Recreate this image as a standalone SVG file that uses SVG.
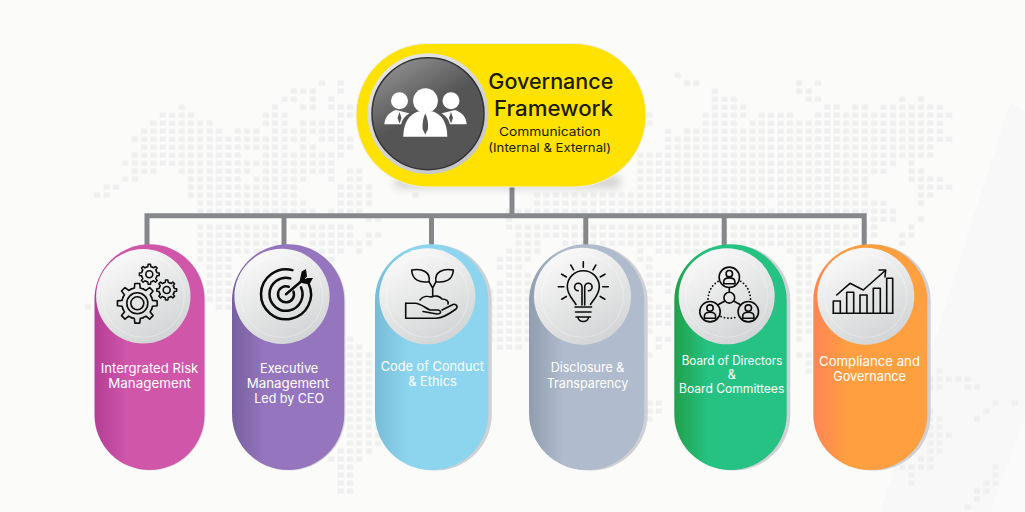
<svg xmlns="http://www.w3.org/2000/svg" xmlns:xlink="http://www.w3.org/1999/xlink" width="1025" height="512" viewBox="0 0 1025 512">
<style>
text{font-family:"Inter","Noto Sans","Liberation Sans",sans-serif}
.lab{fill:#fff;font-size:13.5px}
.lab2{fill:#fff;font-size:12.4px}
.ttl{fill:#1c1a08;font-size:20.8px;font-weight:500}
.sub{fill:#22200e;font-size:12.2px}
.ico{fill:none;stroke:#0b0b0b;stroke-width:1.6;stroke-linecap:round;stroke-linejoin:round}
.dotted{fill:none;stroke:#0b0b0b;stroke-width:1.8;stroke-linecap:round;stroke-dasharray:.1 3.4}
.disc{fill:url(#disc)}
.rim{fill:none;stroke:#fff;stroke-opacity:.3;stroke-width:1}
.shd{fill:#cfd0d3}
.pw{fill:#fff}
.tie{fill:#555}
</style>
<defs>
<pattern id="dot" patternUnits="userSpaceOnUse" width="1" height="1"><rect x=".17" y=".18" width=".66" height=".64" fill="#efeff0"/></pattern>
<linearGradient id="disc" x1=".2" y1="0" x2=".7" y2="1"><stop offset="0" stop-color="#fbfbfb"/><stop offset="1" stop-color="#d2d3d4"/></linearGradient>
<linearGradient id="ring" x1=".2" y1="0" x2=".8" y2="1"><stop offset="0" stop-color="#e6e6e6"/><stop offset="1" stop-color="#c4c4c4"/></linearGradient>
<linearGradient id="dark" x1=".25" y1="0" x2=".6" y2=".6"><stop offset="0" stop-color="#8f8f8f"/><stop offset=".75" stop-color="#555"/></linearGradient>
<linearGradient id="gPink"><stop offset="0" stop-color="#b43f96"/><stop offset=".3" stop-color="#cf56a9"/></linearGradient>
<linearGradient id="gPurple"><stop offset="0" stop-color="#77609f"/><stop offset=".3" stop-color="#9675bf"/></linearGradient>
<linearGradient id="gCyan"><stop offset="0" stop-color="#77bcd6"/><stop offset=".3" stop-color="#8dd5ef"/></linearGradient>
<linearGradient id="gBlue"><stop offset="0" stop-color="#909dae"/><stop offset=".3" stop-color="#b0bccd"/></linearGradient>
<linearGradient id="gGreen"><stop offset="0" stop-color="#22a04a"/><stop offset=".3" stop-color="#25c283"/></linearGradient>
<linearGradient id="gOrange"><stop offset="0" stop-color="#ff8556"/><stop offset=".3" stop-color="#ff9f3f"/></linearGradient>
<filter id="blur" x="-20%" y="-100%" width="140%" height="300%"><feGaussianBlur stdDeviation="5"/></filter>
<path id="t" d="M-5.93-14.32L-2.96-15.2L-2.44-19.85H2.44L2.96-15.2L5.93-14.32"/>
<g id="gear"><use xlink:href="#t"/><use xlink:href="#t" transform="rotate(45)"/><use xlink:href="#t" transform="rotate(90)"/><use xlink:href="#t" transform="rotate(135)"/><use xlink:href="#t" transform="rotate(180)"/><use xlink:href="#t" transform="rotate(225)"/><use xlink:href="#t" transform="rotate(270)"/><use xlink:href="#t" transform="rotate(315)"/></g>
<g id="person"><circle r="10.2"/><circle cy="-3.6" r="3.2"/><path d="M-5.6 6.5V4.5C-5.6 1.5-3 .6 0 .6S5.6 1.5 5.6 4.5V6.5"/><path d="M-5.6 6.5H5.6"/></g>
</defs>

<rect width="1025" height="512" fill="#fbfbfa"/>
<path d="M880 512L1010 102L1025 112V512Z" fill="#f8f8f8"/>
<path d="M990 512L1025 417V512Z" fill="#fafafa"/>

<g id="map" transform="translate(92.62 79.3) scale(9.36 8)">
<path fill="url(#dot)" d="M62-1h1v1h-1z
M24 0h1v1h-1zM26 0h1v1h-1zM63 0h2v1h-2zM75 0h1v1h-1zM77 0h1v1h-1z
M21 1h3v1h-3zM26 1h1v1h-1zM66 1h1v1h-1zM75 1h2v1h-2z
M20 2h2v1h-2zM23 2h1v1h-1zM25 2h1v1h-1zM66 2h3v1h-3zM76 2h2v1h-2zM86 2h1v1h-1zM88 2h1v1h-1z
M9 3h1v1h-1zM19 3h1v1h-1zM22 3h2v1h-2zM25 3h3v1h-3zM66 3h4v1h-4zM78 3h2v1h-2zM81 3h2v1h-2zM84 3h7v1h-7z
M7 4h4v1h-4zM18 4h3v1h-3zM26 4h2v1h-2zM59 4h1v1h-1zM65 4h5v1h-5zM71 4h4v1h-4zM77 4h15v1h-15z
M6 5h7v1h-7zM18 5h3v1h-3zM22 5h5v1h-5zM59 5h1v1h-1zM65 5h4v1h-4zM70 5h21v1h-21z
M5 6h9v1h-9zM15 6h3v1h-3zM19 6h8v1h-8zM61 6h1v1h-1zM63 6h28v1h-28z
M4 7h19v1h-19zM24 7h4v1h-4zM61 7h31v1h-31z
M5 8h16v1h-16zM22 8h2v1h-2zM26 8h2v1h-2zM61 8h29v1h-29z
M4 9h12v1h-12zM18 9h9v1h-9zM58 9h32v1h-32z
M3 10h23v1h-23zM58 10h28v1h-28zM87 10h1v1h-1z
M4 11h3v1h-3zM9 11h8v1h-8zM18 11h8v1h-8zM27 11h2v1h-2zM58 11h27v1h-27zM87 11h2v1h-2z
M3 12h2v1h-2zM10 12h6v1h-6zM17 12h6v1h-6zM25 12h1v1h-1zM27 12h2v1h-2zM58 12h25v1h-25zM87 12h4v1h-4z
M1 13h2v1h-2zM10 13h12v1h-12zM26 13h4v1h-4zM58 13h25v1h-25zM88 13h4v1h-4z
M0 14h2v1h-2zM10 14h12v1h-12zM26 14h4v1h-4zM34 14h1v1h-1zM47 14h36v1h-36zM88 14h2v1h-2z
M11 15h12v1h-12zM26 15h4v1h-4zM47 15h25v1h-25zM73 15h12v1h-12zM88 15h1v1h-1z
M11 16h13v1h-13zM25 16h4v1h-4zM44 16h42v1h-42z
M29 17h2v1h-2zM44 17h1v1h-1zM83 17h3v1h-3zM88 17h1v1h-1z
M11 18h9v1h-9zM21 18h7v1h-7zM44 18h40v1h-40zM87 18h1v1h-1z
M11 19h9v1h-9zM22 19h6v1h-6zM29 19h2v1h-2zM45 19h39v1h-39zM86 19h2v1h-2z
M11 20h9v1h-9zM23 20h7v1h-7zM45 20h3v1h-3zM50 20h31v1h-31zM86 20h1v1h-1z
M11 21h9v1h-9zM23 21h4v1h-4zM28 21h1v1h-1zM44 21h4v1h-4zM58 21h1v1h-1zM60 21h8v1h-8zM74 21h6v1h-6z
M11 22h4v1h-4zM25 22h1v1h-1zM43 22h4v1h-4zM58 22h2v1h-2zM75 22h2v1h-2z
M12 23h3v1h-3zM43 23h3v1h-3zM59 23h1v1h-1zM75 23h2v1h-2z
M12 24h3v1h-3zM44 24h3v1h-3zM59 24h3v1h-3zM75 24h2v1h-2z
M12 25h3v1h-3zM43 25h4v1h-4zM59 25h3v1h-3zM75 25h2v1h-2z
M12 26h3v1h-3zM42 26h5v1h-5zM59 26h1v1h-1zM61 26h1v1h-1zM75 26h2v1h-2z
M12 27h3v1h-3zM42 27h5v1h-5zM59 27h1v1h-1zM75 27h2v1h-2z
M-1 28h1v1h-1zM13 28h2v1h-2zM42 28h5v1h-5zM59 28h3v1h-3zM75 28h2v1h-2z
M42 29h5v1h-5zM59 29h3v1h-3zM75 29h2v1h-2z
M42 30h5v1h-5zM59 30h3v1h-3zM75 30h2v1h-2z
M42 31h5v1h-5zM59 31h1v1h-1zM75 31h2v1h-2z
M27 32h1v1h-1zM42 32h5v1h-5zM60 32h2v1h-2zM75 32h1v1h-1z
M27 33h2v1h-2zM43 33h3v1h-3zM60 33h1v1h-1z
M27 34h3v1h-3zM59 34h1v1h-1zM75 34h2v1h-2z
M27 35h4v1h-4zM76 35h1v1h-1z
M27 36h4v1h-4zM76 36h1v1h-1zM90 36h1v1h-1z
M27 37h4v1h-4zM89 37h5v1h-5z
M27 38h4v1h-4zM89 38h2v1h-2zM93 38h2v1h-2z
M27 39h4v1h-4z
M27 40h4v1h-4zM59 40h2v1h-2zM96 40h1v1h-1zM98 40h1v1h-1z
M27 41h4v1h-4zM59 41h2v1h-2zM89 41h1v1h-1zM95 41h1v1h-1z
M27 42h4v1h-4zM59 42h1v1h-1zM89 42h2v1h-2zM94 42h1v1h-1z
M27 43h4v1h-4zM89 43h2v1h-2z
M27 44h4v1h-4zM89 44h3v1h-3z
M27 45h4v1h-4zM89 45h2v1h-2z
M26 46h4v1h-4zM89 46h2v1h-2z
M25 47h4v1h-4zM88 47h2v1h-2z
M26 48h2v1h-2zM86 48h4v1h-4zM96 48h1v1h-1z
M26 49h2v1h-2zM87 49h1v1h-1zM96 49h1v1h-1z
M26 50h2v1h-2zM87 50h1v1h-1zM95 50h2v1h-2z
M26 51h2v1h-2zM94 51h2v1h-2z
M94 52h1v1h-1z
M93 53h1v1h-1z"/>
</g>

<g id="connectors" fill="none" stroke="#85878a" stroke-width="5">
<path d="M147 250V215.8H864.2V250"/>
<path d="M284 215.8V250M431.5 215.8V250M585.8 215.8V250M724.2 215.8V250M512 180V215.8"/>
</g>

<g id="node-root">
<rect x="395" y="176" width="225" height="12" fill="#000" opacity=".17" filter="url(#blur)"/>
<rect x="356" y="43.5" width="290" height="143.5" rx="71.7" fill="#ffe200" stroke="#eeeeea" stroke-width="1"/>
<circle cx="428" cy="113.7" r="60.5" fill="url(#ring)"/>
<circle cx="428" cy="113.7" r="56" fill="url(#dark)" stroke="#333" stroke-width="1.5"/>
<g id="people">
<circle class="pw" cx="399.5" cy="100.7" r="8.5"/>
<circle class="pw" cx="451" cy="100.7" r="8.5"/>
<path class="pw" d="M384.3 124.3C385 116 390 112 396 110L412 114L404 124.3Z"/>
<path class="pw" d="M466.7 124.3C466 116 461 112 455 110L439 114L447 124.3Z"/>
<path class="tie" d="M399.5 112L401.5 118L399.5 123.5L397.5 118Z"/>
<path class="tie" d="M451 112L453 118L451 123.5L449 118Z"/>
<path d="M401 138V125C402 117 410 112 417 109.5H434C441 112 449 117 450 125V138Z" fill="#555"/>
<circle class="pw" cx="425.5" cy="100.7" r="12.4"/>
<path class="pw" d="M403.3 136.7C403.3 122 410 114 418 111.5H433C441 114 447.3 122 447.3 136.7Z"/>
<path class="tie" d="M425.3 113.5C427.5 118 428.5 124 428 129L425.3 134.5L422.6 129C422.2 124 423 118 425.3 113.5Z"/>
</g>
<text class="ttl" x="488.3" y="89.3" textLength="125" lengthAdjust="spacingAndGlyphs">Governance</text>
<text class="ttl" x="494" y="116" textLength="119" lengthAdjust="spacingAndGlyphs">Framework</text>
<text class="sub" x="499" y="136" textLength="101.7" lengthAdjust="spacingAndGlyphs">Communication</text>
<text class="sub" x="488.3" y="151.7" textLength="122.7" lengthAdjust="spacingAndGlyphs">(Internal &amp; External)</text>
</g>

<g id="node-risk">
<rect x="95.5" y="245" width="110" height="225.5" rx="55" fill="#dcdcdf"/>
<rect x="94.5" y="244.3" width="110" height="225.7" rx="55" fill="url(#gPink)"/>
<circle class="disc" cx="143.3" cy="296.3" r="47.2"/><circle class="rim" cx="143.3" cy="296.3" r="41"/>
<g class="ico">
<use xlink:href="#gear" transform="translate(137.3 303.3)"/>
<circle cx="137.3" cy="303.3" r="10.5"/><circle cx="137.3" cy="303.3" r="6.5"/>
<use xlink:href="#gear" transform="translate(149.3 274.3) scale(.5)" style="stroke-width:3"/>
<circle cx="149.3" cy="274.3" r="3.5"/>
<use xlink:href="#gear" transform="translate(166.7 290) scale(.5)" style="stroke-width:3"/>
<circle cx="166.7" cy="290" r="3.5"/>
</g>
<text class="lab" x="100.7" y="373.3" textLength="97.6" lengthAdjust="spacingAndGlyphs">Intergrated Risk</text>
<text class="lab" x="108.3" y="387.7" textLength="82.7" lengthAdjust="spacingAndGlyphs">Management</text>
</g>

<g id="node-exec">
<rect x="233" y="245" width="112.5" height="225.5" rx="56" fill="#dcdcdf"/>
<rect x="232" y="244.3" width="112.3" height="225.7" rx="56" fill="url(#gPurple)"/>
<circle class="disc" cx="282" cy="296.3" r="47.6"/><circle class="rim" cx="282" cy="296.3" r="41"/>
<g fill="none" stroke="#0b0b0b" stroke-width="2.5" stroke-linecap="round">
<path d="M308.66 283.73A25 25 0 1 1 292.47 270.15"/>
<path d="M300.95 287.33A16.5 16.5 0 1 1 290.27 278.36"/>
<path d="M293.5 291.56A8 8 0 1 1 288.7 286.8"/>
<path d="M286 294.3L304 279"/>
</g>
<path fill="#0b0b0b" d="M299.5 281.5L301.7 271.5L306 269L307 276.5L304 279.5L307.5 278L313 278L309.3 284.5L301.5 283Z"/>
<text class="lab" x="260" y="373.3" textLength="58.3" lengthAdjust="spacingAndGlyphs">Executive</text>
<text class="lab" x="246.7" y="387.7" textLength="82.3" lengthAdjust="spacingAndGlyphs">Management</text>
<text class="lab" x="254.3" y="402.7" textLength="69.7" lengthAdjust="spacingAndGlyphs">Led by CEO</text>
</g>

<g id="node-conduct">
<rect class="shd" x="378.7" y="245" width="113" height="225.5" rx="56"/>
<rect x="375" y="244.3" width="113.3" height="225.7" rx="56" fill="url(#gCyan)"/>
<circle class="disc" cx="427.3" cy="296.3" r="48"/><circle class="rim" cx="427.3" cy="296.3" r="41"/>
<g class="ico">
<path d="M432.7 296.7V288L429 281.7M432.7 288L436 281.7"/>
<path d="M429 281.7C420 283 412 280 411.7 270C422 268 431 272 429 281.7Z"/>
<path d="M436 281.7C434 272 443 268 453.3 270C453 280 445 283 436 281.7Z"/>
<path d="M420 300C423 296 428 296 431 297C435 295 440 296 442 299C446 299 449 301 448 304"/>
<path d="M405.7 303.3V318.3H436C444 318 452 312 456 309C459 306 455 303 452 305L442 310"/>
<path d="M405.7 303.3H415C420 303 425 308 430 310H438C442 311 441 314 437 314L423 311.5"/>
</g>
<text class="lab" x="380.7" y="370.7" textLength="103.3" lengthAdjust="spacingAndGlyphs">Code of Conduct</text>
<text class="lab" x="408.3" y="386" textLength="48.4" lengthAdjust="spacingAndGlyphs">&amp; Ethics</text>
</g>

<g id="node-disclosure">
<rect class="shd" x="532.7" y="245" width="115" height="225.5" rx="57"/>
<rect x="529" y="244.3" width="115.3" height="225.7" rx="57" fill="url(#gBlue)"/>
<circle class="disc" cx="582.5" cy="296.3" r="48.5"/><circle class="rim" cx="582.5" cy="296.3" r="41"/>
<g class="ico">
<path d="M576 304.5C572 298 567.5 295 567.3 286.7A16 16 0 1 1 599.3 286.7C599 295 594.5 298 590.5 304.5"/>
<path d="M575 307H591.5M575.5 312H591M576 317H590.5M578 317C578 323 588.5 323 588.5 317"/>
<path d="M582 305V287A3.7 3.7 0 1 0 578.3 290.7M584.7 305V287A3.7 3.7 0 1 1 588.4 290.7"/>
<g transform="translate(583.3 286.7)"><path d="M0-19.5V-25M9.75-16.9L12.5-21.65M16.9-9.75L21.65-12.5M19.5 0H25M16.9 9.75L21.65 12.5M-9.75-16.9L-12.5-21.65M-16.9-9.75L-21.65-12.5M-19.5 0H-25M-16.9 9.75L-21.65 12.5"/></g>
</g>
<text class="lab" x="550.7" y="372" textLength="73.6" lengthAdjust="spacingAndGlyphs">Disclosure &amp;</text>
<text class="lab" x="546.7" y="387.7" textLength="81.6" lengthAdjust="spacingAndGlyphs">Transparency</text>
</g>

<g id="node-board">
<rect class="shd" x="678" y="245" width="112.3" height="225.5" rx="56"/>
<rect x="674.3" y="244.3" width="112.4" height="225.7" rx="56" fill="url(#gGreen)"/>
<circle class="disc" cx="726.7" cy="296.3" r="48"/><circle class="rim" cx="726.7" cy="296.3" r="41"/>
<g class="ico">
<use xlink:href="#person" transform="translate(729.3 277.3)"/>
<use xlink:href="#person" transform="translate(710 311.7)"/>
<use xlink:href="#person" transform="translate(748.3 311.7)"/>
<circle cx="729.3" cy="297.7" r="5.4"/>
<path d="M729.3 287.5V292.3M725 301L717.5 305M733.6 301L741 305"/>
</g>
<path class="dotted" d="M708 299Q709 285 721 280M750.5 299Q749.5 285 738 280M721 316.5Q729.3 320 738 316.5"/>
<text class="lab2" x="681.7" y="365" textLength="100.6" lengthAdjust="spacingAndGlyphs">Board of Directors</text>
<text class="lab2" x="727.8" y="378.8" textLength="8" lengthAdjust="spacingAndGlyphs">&amp;</text>
<text class="lab2" x="679" y="392.7" textLength="105.3" lengthAdjust="spacingAndGlyphs">Board Committees</text>
</g>

<g id="node-compliance">
<rect class="shd" x="817" y="245" width="113.7" height="225.5" rx="56"/>
<rect x="813.3" y="244.3" width="114" height="225.7" rx="56" fill="url(#gOrange)"/>
<circle class="disc" cx="865.8" cy="296.3" r="48.5"/><circle class="rim" cx="865.8" cy="296.3" r="41"/>
<g class="ico" stroke-linecap="butt">
<path d="M833.3 313.3H892.7"/>
<path d="M833.3 313.3V301H840.3V313.3M846.7 313.3V292.3H853.7V313.3M860 313.3V295H867V313.3M873.3 313.3V288.3H880.3V313.3M886.7 313.3V278.3H892.7V313.3"/>
<path d="M836.7 295L850 283.3L863.3 290L885.3 270.5"/>
<path d="M879 270H885.7L885 277"/>
</g>
<text class="lab" x="819" y="366" textLength="101" lengthAdjust="spacingAndGlyphs">Compliance and</text>
<text class="lab" x="833.3" y="380.7" textLength="72.7" lengthAdjust="spacingAndGlyphs">Governance</text>
</g>
</svg>
